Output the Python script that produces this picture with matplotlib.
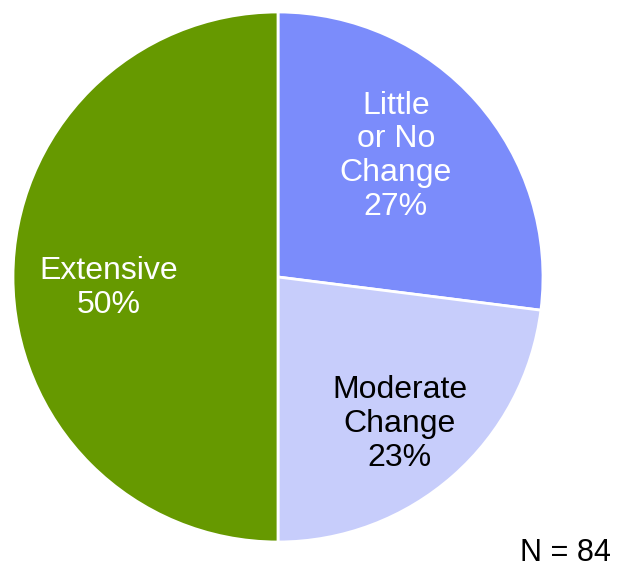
import matplotlib.pyplot as plt

plt.rcParams['font.family'] = ['Liberation Sans', 'DejaVu Sans']

categories = ["Little\nor No\nChange", "Moderate\nChange", "Extensive"]
shares = [27, 23, 50]
colors = ["#7b8cfb", "#c7cdfb", "#669900"]
text_colors = ["white", "black", "white"]
label_pos = [(0.445, 0.455), (0.46, -0.555), (-0.64, -0.04)]

fig = plt.figure(figsize=(6.18, 5.68), dpi=100)
ax = fig.add_axes([(278 - 265) / 618, (291 - 265) / 568, 530 / 618, 530 / 568])

ax.pie(shares, colors=colors, startangle=90, counterclock=False, radius=1,
       wedgeprops=dict(edgecolor="white", linewidth=2))

for cat, val, tc, (x, y) in zip(categories, shares, text_colors, label_pos):
    ax.text(x, y, f"{cat}\n{val}%", ha="center", va="center", fontsize=23,
            color=tc, linespacing=1.17)

ax.set_xlim(-1, 1)
ax.set_ylim(-1, 1)
ax.set_aspect("equal")
ax.axis("off")

fig.text(565 / 618, 1 - 553 / 568, "N = 84", ha="center", va="center", fontsize=22)

plt.savefig("out.png", dpi=100)
